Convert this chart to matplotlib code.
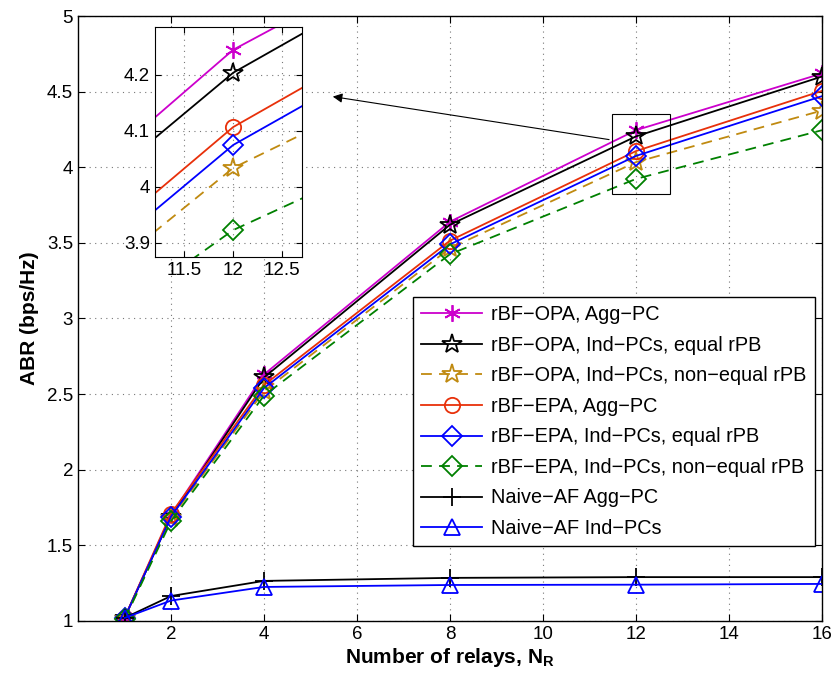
import numpy as np
import matplotlib
matplotlib.use("Agg")
import matplotlib.pyplot as plt
from matplotlib.ticker import FormatStrFormatter
from matplotlib.patches import Rectangle

plt.rcParams['font.family'] = ['Liberation Sans', 'DejaVu Sans']
plt.rcParams['mathtext.fontset'] = 'custom'
plt.rcParams['mathtext.rm'] = 'Liberation Sans'
plt.rcParams['mathtext.bf'] = 'Liberation Sans:bold'

# data
n_relays = [1, 2, 4, 8, 12, 16]
opa_agg = [1.02, 1.70, 2.63, 3.64, 4.245, 4.62]
opa_ind_eq = [1.02, 1.69, 2.61, 3.62, 4.204, 4.60]
opa_ind_neq = [1.01, 1.68, 2.52, 3.465, 4.034, 4.375]
epa_agg = [1.02, 1.71, 2.56, 3.515, 4.107, 4.505]
epa_ind_eq = [1.02, 1.69, 2.54, 3.49, 4.075, 4.47]
epa_ind_neq = [1.01, 1.66, 2.49, 3.425, 3.923, 4.245]
naive_agg = [1.02, 1.165, 1.265, 1.285, 1.29, 1.29]
naive_ind = [1.02, 1.135, 1.225, 1.238, 1.24, 1.245]

labels = ['rBF\u2212OPA, Agg\u2212PC',
          'rBF\u2212OPA, Ind\u2212PCs, equal rPB',
          'rBF\u2212OPA, Ind\u2212PCs, non\u2212equal rPB',
          'rBF\u2212EPA, Agg\u2212PC',
          'rBF\u2212EPA, Ind\u2212PCs, equal rPB',
          'rBF\u2212EPA, Ind\u2212PCs, non\u2212equal rPB',
          'Naive\u2212AF Agg\u2212PC',
          'Naive\u2212AF Ind\u2212PCs']

series = [opa_agg, opa_ind_eq, opa_ind_neq, epa_agg, epa_ind_eq, epa_ind_neq,
          naive_agg, naive_ind]
colors = ['#cc00cc', 'black', '#c08a10', '#e8300a', 'blue', 'green', 'black', 'blue']
markers = [(6, 2, 0), '*', '*', 'o', 'D', 'D', '+', '^']
msizes = [12, 15, 15, 11, 10, 10, 13, 12]
styles = ['-', '-', (0, (6, 4)), '-', '-', (0, (6, 4)), '-', '-']

fig = plt.figure(figsize=(8.37, 6.87), dpi=100)
ax = fig.add_axes([0.0932, 0.0961, 0.8889, 0.8806])


def draw(a, with_labels=True):
    for y, c, m, ms, ls, lab in zip(series, colors, markers, msizes, styles, labels):
        a.plot(n_relays, y, color=c, marker=m, markersize=ms, linestyle=ls,
               linewidth=1.3, markerfacecolor='none', markeredgecolor=c,
               markeredgewidth=1.3, label=lab if with_labels else None)


draw(ax)
ax.set_xlim(0, 16)
ax.set_ylim(1, 5)
ax.set_xticks(np.arange(2, 17, 2))
ax.set_yticks(np.arange(1, 5.01, 0.5))
ax.yaxis.set_major_formatter(FormatStrFormatter('%g'))
ax.tick_params(direction='in', top=True, right=True, labelsize=13.5, length=5)
ax.grid(True, linestyle=(0, (1, 4)), color='#777777', linewidth=0.8)
ax.set_xlabel(r'Number of relays, $\mathbf{N}_\mathbf{R}$', fontsize=15,
              fontweight='bold', labelpad=2)
ax.set_ylabel('ABR (bps/Hz)', fontsize=15, fontweight='bold', labelpad=6)
for s in ax.spines.values():
    s.set_linewidth(1.0)

leg = ax.legend(loc='lower right', bbox_to_anchor=(0.99, 0.124), fontsize=14.3,
                fancybox=False, edgecolor='black', framealpha=1,
                handlelength=3.1, handletextpad=0.45, labelspacing=0.58,
                borderpad=0.4, borderaxespad=0)
leg.get_frame().set_linewidth(1.0)

# zoom rectangle and arrow
ax.add_patch(Rectangle((11.48, 3.82), 1.25, 0.53, fill=False,
                       edgecolor='black', linewidth=0.8, zorder=5))
ax.annotate('', xy=(5.42, 4.47), xytext=(11.48, 4.18),
            arrowprops=dict(arrowstyle='-|>', color='black', lw=0.8,
                            mutation_scale=14))

# inset
axin = fig.add_axes([0.185, 0.626, 0.1756, 0.335])
draw(axin, with_labels=False)
axin.set_xlim(11.2, 12.7)
axin.set_ylim(3.875, 4.286)
axin.set_xticks([11.5, 12, 12.5])
axin.set_yticks([3.9, 4.0, 4.1, 4.2])
axin.xaxis.set_major_formatter(FormatStrFormatter('%g'))
axin.yaxis.set_major_formatter(FormatStrFormatter('%g'))
axin.tick_params(direction='in', top=True, right=True, labelsize=13.5, length=4)
axin.grid(True, linestyle=(0, (1, 4)), color='#777777', linewidth=0.8)

fig.savefig('out.png', dpi=100)
